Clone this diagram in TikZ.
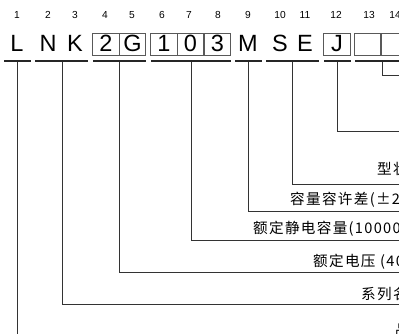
\documentclass[tikz,border=0pt]{standalone}
\usepackage{fontspec}
\setmainfont{Liberation Sans}
\newfontfamily\cjk[LetterSpace=9]{Noto Sans CJK SC}
\begin{document}
\begin{tikzpicture}[x=1pt,y=-1pt,
  num/.style={font=\fontsize{10.2}{10.2}\selectfont, inner sep=0, anchor=base},
  chr/.style={font=\fontsize{23.5}{23.5}\selectfont, inner sep=0, anchor=base},
  cell/.style={draw=black!65, line width=0.8pt, minimum width=26.6pt, minimum height=22pt, inner sep=0},
  bar/.style={fill=black!85, minimum height=2.6pt, inner sep=0},
  lead/.style={draw=black!80, line width=0.9pt},
  lbl/.style={font=\cjk\fontsize{14.6}{14.6}\selectfont, anchor=base west, inner sep=0}]
\useasboundingbox (0,0) rectangle (399,334);
\clip (0,0) rectangle (399,334);
% boxes
\node[cell] (b4) at (106,44) {};
\node[cell] (b5) at (132.5,44) {};
\node[cell] (b6) at (164,44) {};
\node[cell] (b7) at (190.5,44) {};
\node[cell] (b8) at (217.5,44) {};
\node[cell] (b12) at (337,44) {};
\node[cell] (b13) at (367.5,44) {};
\node[cell] (b14) at (394.5,44) {};
% position numbers
\foreach \n/\x in {1/17,2/48,3/75,4/105,5/132,6/162,7/189,8/218,9/248,10/280,11/305,12/336,13/369,14/395}
  \node[num] (n\n) at (\x,18.6) {\n};
% code letters
\node[chr] (c1) at (17,52) {L};
\node[chr] (c2) at (48,52) {N};
\node[chr] (c3) at (75,52) {K};
\node[chr] (c4) at (106,52) {2};
\node[chr] (c5) at (132.5,52) {G};
\node[chr] (c6) at (164,52) {1};
\node[chr] (c7) at (190.5,52) {0};
\node[chr] (c8) at (217.5,52) {3};
\node[chr] (c9) at (248,52) {M};
\node[chr] (c10) at (280,52) {S};
\node[chr] (c11) at (305,52) {E};
\node[chr] (c12) at (337,52) {J};
% group bars
\node[bar, minimum width=27pt] (g1) at (17.5,61) {};
\node[bar, minimum width=53pt] (g2) at (61.5,61) {};
\node[bar, minimum width=53pt] (g3) at (119.5,61) {};
\node[bar, minimum width=80pt] (g4) at (191,61) {};
\node[bar, minimum width=27pt] (g5) at (248.5,61) {};
\node[bar, minimum width=53pt] (g6) at (292.5,61) {};
\node[bar, minimum width=27pt] (g7) at (337.5,61) {};
\node[bar, minimum width=53pt] (g8) at (381.5,61) {};
% corners and ends
\coordinate (e1) at (17,334);
\coordinate (k2) at (62,304);  \coordinate (e2) at (399,304);
\coordinate (k3) at (119,272); \coordinate (e3) at (399,272);
\coordinate (k4) at (191,240); \coordinate (e4) at (399,240);
\coordinate (k5) at (248,211); \coordinate (e5) at (399,211);
\coordinate (k6) at (292,184); \coordinate (e6) at (399,184);
\coordinate (k7) at (337,131); \coordinate (e7) at (399,131);
\coordinate (k8) at (382,75);  \coordinate (e8) at (399,75);
% leader lines
\draw[lead] (g1.south -| e1) -- (e1);
\draw[lead] (g2.south -| k2) -- (k2) -- (e2);
\draw[lead] (g3.south -| k3) -- (k3) -- (e3);
\draw[lead] (g4.south -| k4) -- (k4) -- (e4);
\draw[lead] (g5.south -| k5) -- (k5) -- (e5);
\draw[lead] (g6.south -| k6) -- (k6) -- (e6);
\draw[lead] (g7.south -| k7) -- (k7) -- (e7);
\draw[lead] (g8.south -| k8) -- (k8) -- (e8);
% labels
\node[lbl] (t6) at (377,174.5) {型状};
\node[lbl] (t5) at (290,204.5) {容量容许差(±20\%)};
\node[lbl] (t4) at (253,233) {额定静电容量(10000pF)};
\node[lbl] (t3) at (313,266.5) {额定电压 (400V)};
\node[lbl] (t2) at (361,299.5) {系列名};
\node[lbl] (t1) at (395,335) {品};
\end{tikzpicture}
\end{document}
